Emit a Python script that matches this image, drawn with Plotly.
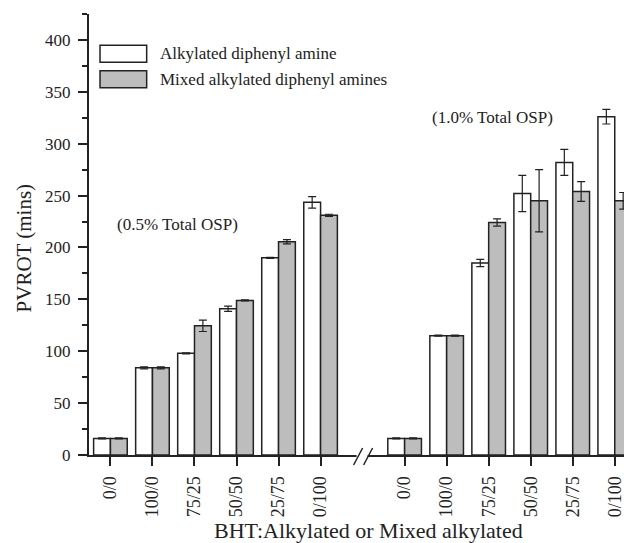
import plotly.graph_objects as go

# ---- data ----
ratios = ["0/0", "100/0", "75/25", "50/50", "25/75", "0/100"]
groups = ["(0.5% Total OSP)", "(1.0% Total OSP)"]
series_names = ["Alkylated diphenyl amine", "Mixed alkylated diphenyl amines"]

adpa_05 = [16, 84, 98, 141, 190, 243.5]
adpa_05_err = [0.5, 1, 0.5, 2.5, 0.5, 5.5]
madpa_05 = [16, 84, 124.5, 149, 205.5, 231]
madpa_05_err = [0.5, 1, 5.5, 0.5, 2, 1]

adpa_10 = [16, 115, 185, 252, 282, 326]
adpa_10_err = [0.5, 0.5, 3.5, 17.5, 12.5, 7]
madpa_10 = [16, 115, 224, 245, 254, 245]
madpa_10_err = [0.5, 0.5, 3.5, 30, 9.5, 8]

y_ticks = [0, 50, 100, 150, 200, 250, 300, 350, 400]

# ---- build positions: two groups separated by one empty slot (axis break) ----
n = len(ratios)
xpos = [i for i in range(n)] + [i + n + 1 for i in range(n)]
break_at = n  # slot between the groups
xlabels = ratios + ratios

adpa = adpa_05 + adpa_10
adpa_err = adpa_05_err + adpa_10_err
madpa = madpa_05 + madpa_10
madpa_err = madpa_05_err + madpa_10_err

FONT = "Liberation Serif, Times New Roman, serif"
INK = "#222222"
GRAY = "#bdbdbd"

fig = go.Figure()
fig.add_trace(go.Bar(
    x=xpos, y=adpa, name=series_names[0],
    marker=dict(color="white", line=dict(color=INK, width=1.5)),
    error_y=dict(type="data", array=adpa_err, visible=True, color=INK, thickness=1.2, width=4),
))
fig.add_trace(go.Bar(
    x=xpos, y=madpa, name=series_names[1],
    marker=dict(color=GRAY, line=dict(color=INK, width=1.5)),
    error_y=dict(type="data", array=madpa_err, visible=True, color=INK, thickness=1.2, width=4),
))

fig.update_layout(
    width=624, height=543,
    margin=dict(l=89, r=0, t=14, b=88),
    paper_bgcolor="white", plot_bgcolor="white",
    barmode="group", bargap=0.2, bargroupgap=0,
    showlegend=False,
    font=dict(family=FONT, color=INK),
)

fig.update_xaxes(
    range=[-0.51, 12.22],
    tickmode="array", tickvals=xpos, ticktext=xlabels,
    tickangle=-90, tickfont=dict(size=18, family=FONT, color=INK),
    ticks="outside", ticklen=9, tickwidth=1.5, tickcolor=INK,
    showline=True, linecolor=INK, linewidth=2,
    showgrid=False, zeroline=False,
    ticklabelstandoff=3, ticklabeloverflow="allow",
)
fig.update_yaxes(
    range=[0, 425],
    tickmode="array", tickvals=y_ticks,
    tickfont=dict(size=17, family=FONT, color=INK),
    ticks="outside", ticklen=9, tickwidth=1.5, tickcolor=INK,
    minor=dict(ticks="outside", ticklen=5, tickwidth=1.5, tickcolor=INK, dtick=25, showgrid=False),
    showline=True, linecolor=INK, linewidth=2,
    showgrid=False, zeroline=False,
    ticklabelstandoff=4,
)

# axis titles
fig.add_annotation(text="PVROT (mins)", xref="paper", yref="paper",
                   x=-0.122, y=0.47, textangle=-90, showarrow=False,
                   xanchor="center", yanchor="middle",
                   font=dict(size=21, family=FONT, color=INK))
fig.add_annotation(text="BHT:Alkylated or Mixed alkylated", xref="paper", yref="paper",
                   x=0.522, y=-0.172, showarrow=False, xanchor="center", yanchor="middle",
                   font=dict(size=22, family=FONT, color=INK))

# group labels
fig.add_annotation(text=groups[0], x=1.6, y=222, showarrow=False,
                   font=dict(size=17, family=FONT, color=INK))
fig.add_annotation(text=groups[1], x=9.08, y=325, showarrow=False,
                   font=dict(size=17, family=FONT, color=INK))

# custom legend
for k, (fill, yc) in enumerate([("white", 0.910), (GRAY, 0.852)]):
    fig.add_shape(type="rect", xref="paper", yref="paper",
                  x0=0.0206, x1=0.1078, y0=yc - 0.0193, y1=yc + 0.0193,
                  fillcolor=fill, line=dict(color=INK, width=1.5))
    fig.add_annotation(text=series_names[k], xref="paper", yref="paper",
                       x=0.129, y=yc, xanchor="left", yanchor="middle", showarrow=False,
                       font=dict(size=17, family=FONT, color=INK))

# axis break marks
fig.add_shape(type="rect", xref="x", yref="paper", xsizemode="pixel", ysizemode="pixel",
              xanchor=break_at, yanchor=0, x0=-6, x1=5, y0=-3, y1=3,
              fillcolor="white", line=dict(width=0), layer="above")
for dx in (-9, 1):
    fig.add_shape(type="line", xref="x", yref="paper", xsizemode="pixel", ysizemode="pixel",
                  xanchor=break_at, yanchor=0, x0=dx, x1=dx + 9, y0=-10, y1=7,
                  line=dict(color=INK, width=1.5), layer="above")

fig.write_html("out.html")
